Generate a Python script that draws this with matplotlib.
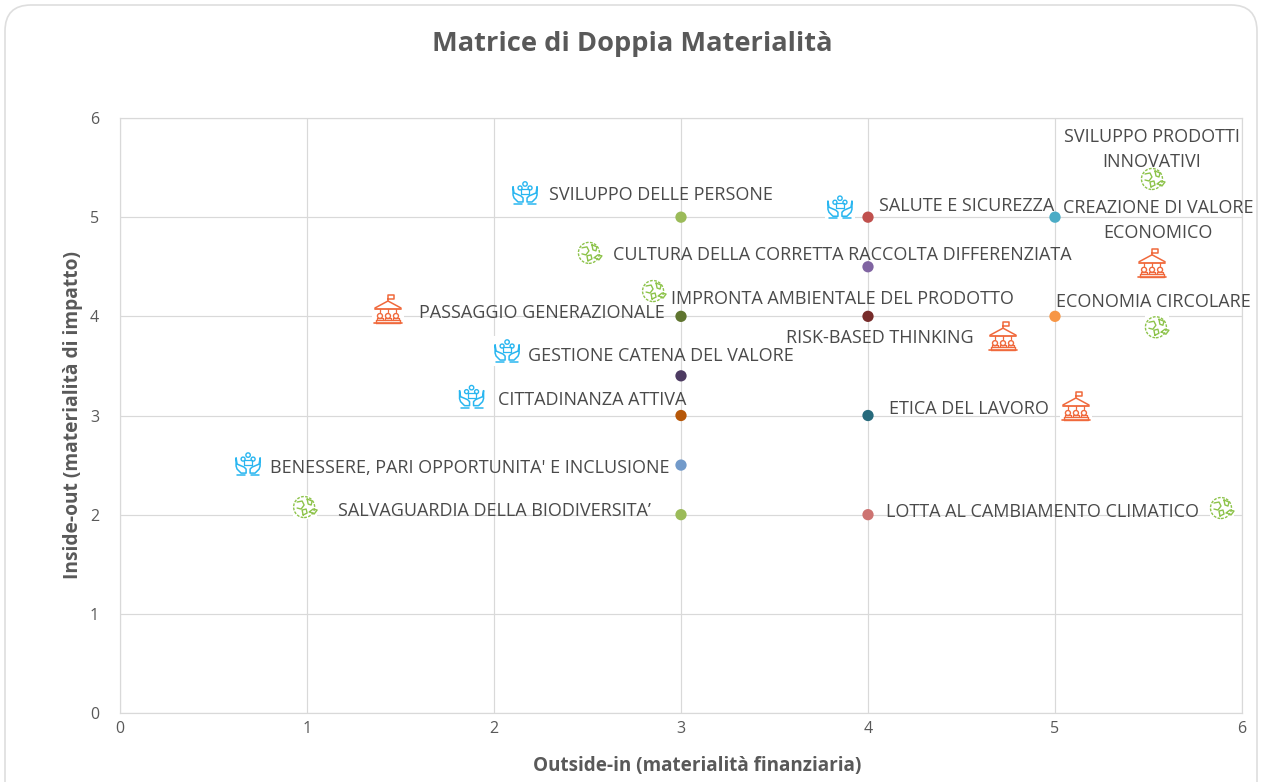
import numpy as np
import matplotlib
matplotlib.use("Agg")
import matplotlib.pyplot as plt
from matplotlib.patches import FancyBboxPatch, Rectangle, Circle
from matplotlib.transforms import Affine2D

plt.rcParams['font.family'] = ['Open Sans', 'DejaVu Sans']

GREY = "#595959"

# points
point_x = [3, 4, 5, 4, 4, 3, 5, 3, 3, 4, 3, 3, 4]
point_y = [5, 5, 5, 4.5, 4, 4, 4, 3.4, 3, 3, 2.5, 2, 2]
point_colors = ["#9BBB59", "#C0504D", "#4BACC6", "#8064A2", "#772C2A", "#5F7530", "#F79646",
                "#4D3B62", "#B65708", "#276A7C", "#729ACA", "#9BBB59", "#CD7371"]

# labels: text, x, y, horizontal alignment
labels = ["SVILUPPO DELLE PERSONE", "SALUTE E SICUREZZA", "CREAZIONE DI VALORE\nECONOMICO",
          "SVILUPPO PRODOTTI\nINNOVATIVI", "CULTURA DELLA CORRETTA RACCOLTA DIFFERENZIATA",
          "IMPRONTA AMBIENTALE DEL PRODOTTO", "PASSAGGIO GENERAZIONALE", "ECONOMIA CIRCOLARE",
          "RISK-BASED THINKING", "GESTIONE CATENA DEL VALORE", "CITTADINANZA ATTIVA",
          "ETICA DEL LAVORO", "BENESSERE, PARI OPPORTUNITA' E INCLUSIONE",
          "SALVAGUARDIA DELLA BIODIVERSITA’", "LOTTA AL CAMBIAMENTO CLIMATICO"]
label_x = [2.294, 4.059, 5.551, 5.519, 2.636, 2.947, 1.599, 5.005, 3.561, 2.182, 2.021, 4.112, 0.802, 1.166, 4.096]
label_y = [5.224, 5.113, 4.966, 5.687, 4.62, 4.175, 4.034, 4.145, 3.78, 3.60, 3.156, 3.066, 2.47, 2.037, 2.027]
label_ha = ["left", "left", "center", "center", "left", "left", "left", "left", "left", "left", "left",
            "left", "left", "left", "left"]

# icons
hands_x = [2.166, 3.85, 2.07, 1.88, 0.685]
hands_y = [5.244, 5.10, 3.65, 3.19, 2.51]
globe_x = [5.524, 2.513, 2.856, 5.545, 0.99, 5.893]
globe_y = [5.385, 4.64, 4.255, 3.89, 2.077, 2.067]
temple_x = [5.519, 1.433, 4.722, 5.112]
temple_y = [4.54, 4.074, 3.80, 3.096]

ticks = [0, 1, 2, 3, 4, 5, 6]

W, H = 1261, 782
fig = plt.figure(figsize=(W / 100, H / 100), dpi=100, facecolor="white")

# rounded chart border, bottom edge runs off the picture
fig.add_artist(FancyBboxPatch((5, -40), W - 9, H + 40 - 5, boxstyle="round,pad=0,rounding_size=26",
                              transform=Affine2D(), fc="white", ec="#DEDEDE", lw=1.2, zorder=-1))

ax = fig.add_axes([120 / W, 1 - 713 / H, 1122 / W, 595 / H])
ax.set_xlim(0, 6)
ax.set_ylim(0, 6)
ax.set_facecolor("none")
ax.set_xticks(ticks)
ax.set_yticks(ticks)
ax.grid(True, color="#D9D9D9", lw=0.85)
ax.set_axisbelow(True)
for s in ax.spines.values():
    s.set_color("#D9D9D9")
    s.set_linewidth(0.85)
ax.tick_params(axis="x", length=0, labelsize=11.5, labelcolor=GREY, pad=6)
ax.tick_params(axis="y", length=0, labelsize=11.5, labelcolor=GREY, pad=15)

ax.scatter(point_x, point_y, c=point_colors, s=66, zorder=4, linewidths=0)

for txt, x, y, ha in zip(labels, label_x, label_y, label_ha):
    ax.text(x, y, txt, ha=ha, va="center", color="#4A4A4A", fontsize=13, linespacing=1.5, zorder=5)

fig.text(632 / W, 1 - 44 / H, "Matrice di Doppia Materialità", ha="center", va="center",
         color=GREY, fontsize=19.6, fontweight="bold")
fig.text(697 / W, 1 - 766 / H, "Outside-in (materialità finanziaria)", ha="center", va="center",
         color=GREY, fontsize=13.6, fontweight="bold")
fig.text(73 / W, 1 - 415 / H, "Inside-out (materialità di impatto)", ha="center", va="center",
         color=GREY, fontsize=13.8, fontweight="bold", rotation=90)


def place(x, y):
    px, py = ax.transData.transform((x, y))
    return Affine2D().translate(px, py)


def stroke(xs, ys, tr, color, lw=1.0):
    fig.add_artist(plt.Line2D(xs, ys, transform=tr, color=color, lw=lw, zorder=6, solid_capstyle="round"))


def backing(tr, half):
    fig.add_artist(Rectangle((-half, -half), 2 * half, 2 * half, transform=tr, fc="white", ec="none", zorder=5))


def draw_hands(x, y, color="#29B6F0"):
    tr = place(x, y)
    backing(tr, 15)
    for sgn in (-1, 1):
        stroke(sgn * np.array([12, 12, 11, 7, 2, 2, 4, 11, 12]),
               [6, -2, -5, -9, -9, -5, -3, 0, 6], tr, color, 1.1)
        stroke(sgn * np.array([3, 11]), [-11, -11], tr, color, 1.1)
        fig.add_artist(Circle((sgn * 5, 5), 2, transform=tr, fc="none", ec=color, lw=1, zorder=6))
    fig.add_artist(Circle((0, 9), 2.2, transform=tr, fc="none", ec=color, lw=1, zorder=6))
    stroke([-4, 4, 4, -4, -4], [-1, -1, 4, 4, -1], tr, color, 0.9)


def draw_globe(x, y, color="#8DC34A"):
    tr = place(x, y)
    backing(tr, 12)
    fig.add_artist(Circle((-1, 0), 10.5, transform=tr, fc="none", ec=color, lw=1, ls=(0, (2, 1)), zorder=6))
    stroke([-8, -3, -1, -4, -8], [5, 6, 2, -2, -1], tr, color, 1)
    stroke([2, 7, 6, 3, 2], [8, 6, 2, 3, 8], tr, color, 1)
    stroke([-2, 2, 1, -3, -2], [-8, -6, -2, -3, -8], tr, color, 1)
    stroke([4, 8, 12, 9, 5], [-5, -2, -3, -7, -5], tr, color, 1)


def draw_temple(x, y, color="#F0693C"):
    tr = place(x, y)
    backing(tr, 16)
    stroke([-14, 14], [-14, -14], tr, color, 1.2)
    stroke([-12, 12, 12, -12, -12], [-14, -14, -11, -11, -14], tr, color, 1)
    stroke([-13, 13], [0, 0], tr, color, 1.3)
    stroke([-13, 0, 13], [1, 8, 1], tr, color, 1.1)
    stroke([0, 0, 6, 6, 0], [8, 14, 14, 10, 10], tr, color, 1.1)
    for c in (-8, 0, 8):
        fig.add_artist(Circle((c, -7), 2.5, transform=tr, fc="none", ec=color, lw=1, zorder=6))
        stroke([c - 3, c - 3, c + 3, c + 3], [-11, -9, -9, -11], tr, color, 0.9)
        stroke([c, c], [-3, 0], tr, color, 0.9)


for x, y in zip(hands_x, hands_y):
    draw_hands(x, y)
for x, y in zip(globe_x, globe_y):
    draw_globe(x, y)
for x, y in zip(temple_x, temple_y):
    draw_temple(x, y)

fig.savefig("out.png", dpi=100)
